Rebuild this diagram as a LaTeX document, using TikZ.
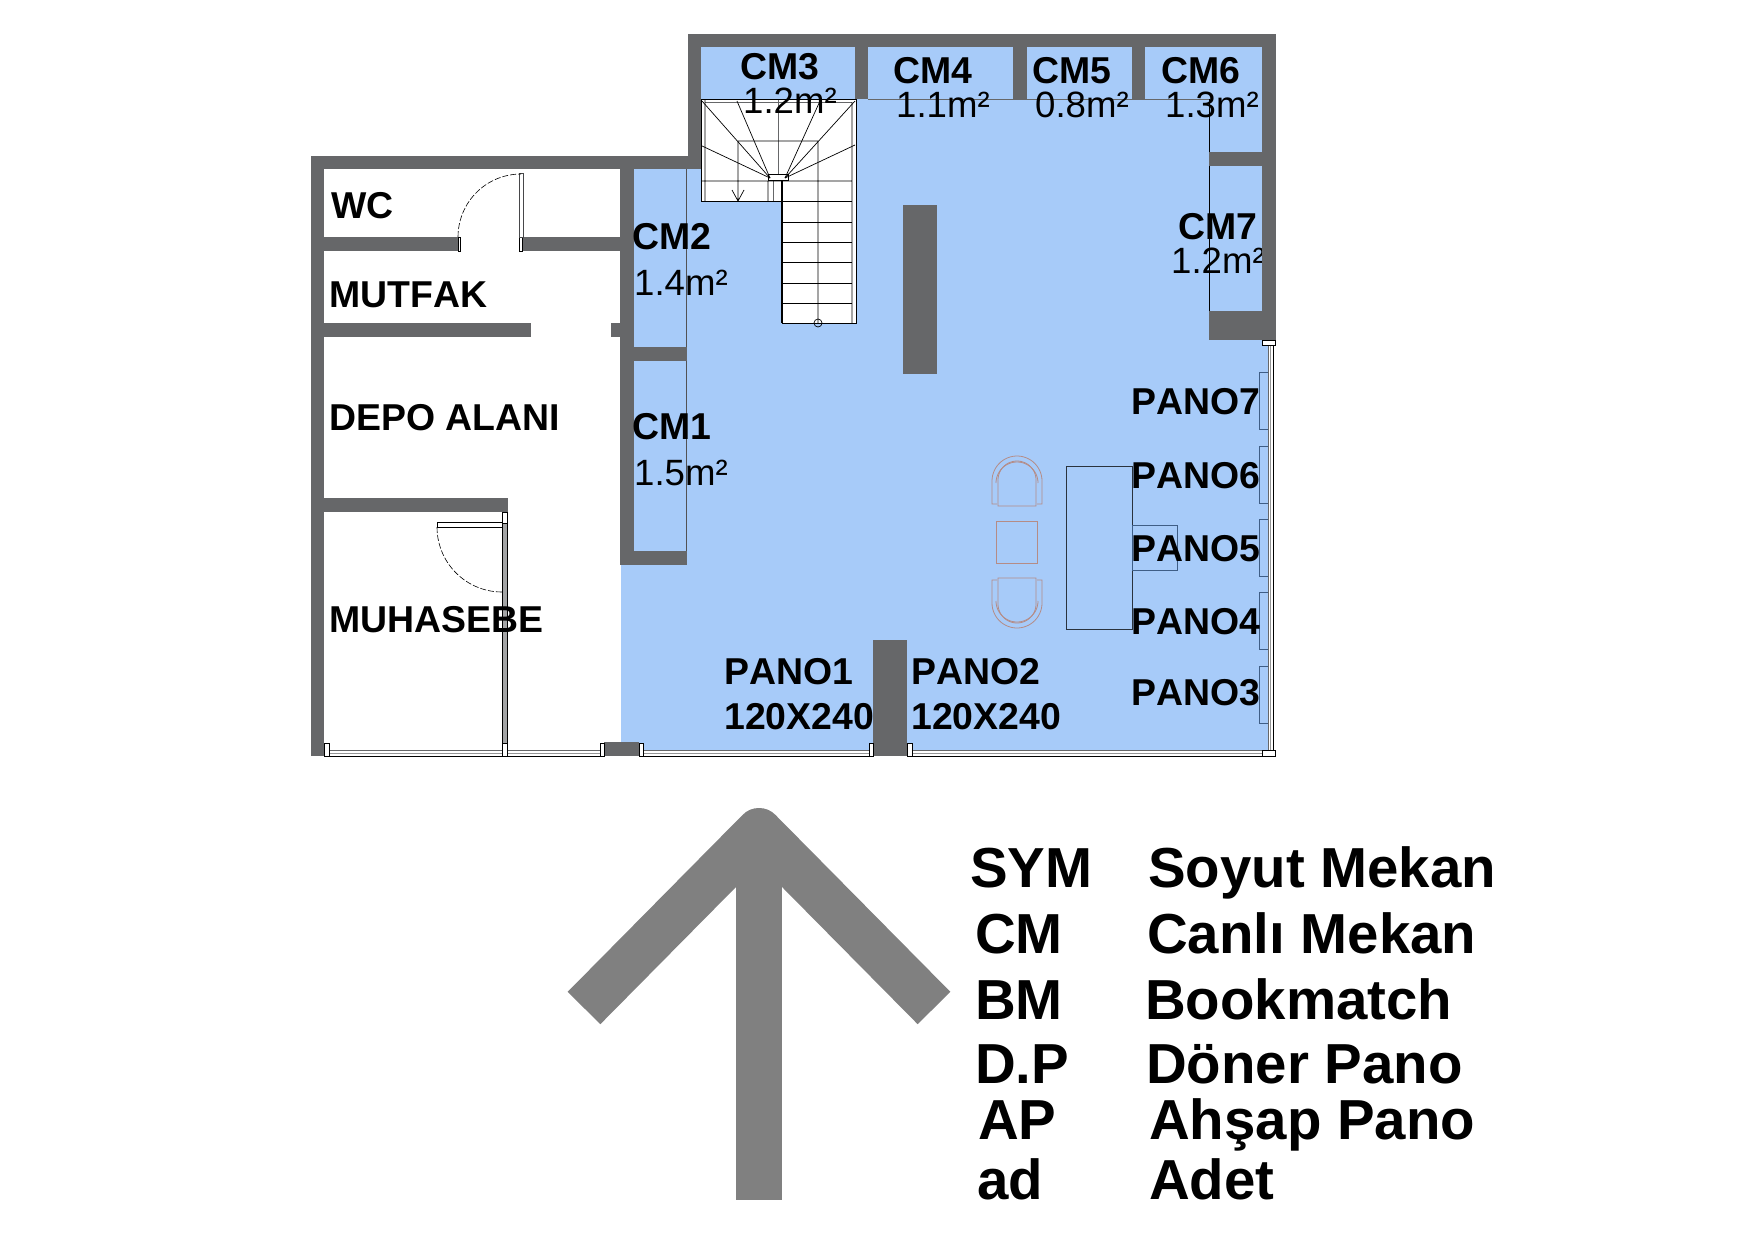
\documentclass[tikz,border=0pt]{standalone}
\usepackage{fontspec}
\setmainfont[Kerning=Off]{Liberation Sans}
\definecolor{wallgray}{HTML}{666769}
\definecolor{roomblue}{HTML}{A7CBF9}
\definecolor{arrowgray}{HTML}{808080}
\definecolor{chairline}{HTML}{B58C86}
\definecolor{panoline}{HTML}{3F5E86}
\tikzset{
    wallfill/.style={fill=wallgray,draw=none},
    capfill/.style={fill=white,draw=black,line width=.6pt},
    thinline/.style={draw=black,line width=.7pt},
    doorswing/.style={draw=black,line width=.6pt,dash pattern=on 6pt off 2pt},
    roomlabel/.style={anchor=base west,inner sep=0pt,font=\fontsize{37.4}{37.4}\selectfont\bfseries},
    arealabel/.style={anchor=base west,inner sep=0pt,font=\fontsize{36.6}{36.6}\selectfont},
    legendlabel/.style={anchor=base west,inner sep=0pt,font=\fontsize{56.4}{56.4}\selectfont\bfseries},
    arrowstroke/.style={draw=arrowgray,line width=46pt}
}
\begin{document}
\begin{tikzpicture}[x=1pt,y=-1pt]
    \useasboundingbox (0,0) rectangle (1755,1240);
    \fill[roomblue] (701,47)--(1262,47)--(1262,345)--(1268,345)--(1268,750)--(621,750)--(621,565)--(634,565)--(634,169)--(701,169)--cycle;
    \draw[line width=.8pt,draw=wallgray!80!black] (686,169)--(686,551);
    \draw[line width=.8pt,draw=wallgray] (868,99)--(1209,99);
    \draw[thinline] (1209,99)--(1209,340);
    %=========== stairs
    \fill[white] (701,99)--(856,99)--(856,323)--(782,323)--(782,201)--(701,201)--cycle;
    \draw[line width=1pt] (701,99)--(856,99)--(856,323)--(782,323)--(782,201)--(701,201)--cycle;
    \draw[line width=.5pt,draw=wallgray] (705,102)--(852,102) (778,100)--(778,174) (773,181)--(773,201);
    \draw[thinline] (705,99)--(705,201) (852,102)--(852,323) (701,181)--(852,181)
        (768,181)--(768,201) (738,141)--(818,141) (738,141)--(738,201) (818,141)--(818,323)
        (732,190)--(738,201)--(744,190);
    \draw[thinline] (768,174) rectangle (788,180);
    \foreach \sy in {201,222,242,262,283,303}\draw[thinline] (782,\sy)--(852,\sy);
    \foreach \sx/\sy in {702/101,737/101,700/145}\draw[thinline] (\sx,\sy)--(770,178);
    \foreach \sx/\sy in {855/101,820/101,855/145}\draw[thinline] (\sx,\sy)--(785,178);
    \draw[line width=1.6pt] (782,181)--(782,323);
    \draw[thinline] (818,323) circle (4pt);
    %=========== walls
    \foreach \xa/\ya/\xb/\yb in {311/156/324/756,311/156/701/169,688/34/701/169,688/34/1276/47,
        620/156/634/565,620/551/687/565,620/347/687/361,
        324/237/458/251,521/237/620/251,324/323/531/337,611/323/620/337,324/498/508/512,
        855/47/868/99,1013/47/1027/99,1132/47/1145/99,
        1209/152/1262/166,1209/311/1262/340,903/205/937/374,873/640/907/756,604/742/639/756}
        \fill[wallfill] (\xa,\ya) rectangle (\xb,\yb);
    %=========== windows and doors
    \foreach \xa/\xb in {329/502,507/600,643/869,912/1262}{
        \fill[white] (\xa,750) rectangle (\xb,756);
        \draw[line width=1pt,draw=wallgray] (\xa,750)--(\xb,750);
        \draw[line width=.6pt,draw=wallgray!70] (\xa,753)--(\xb,753);
        \draw[line width=1pt] (\xa,756)--(\xb,756);
    }
    \fill[white] (1268,345) rectangle (1274,750);
    \draw[line width=1pt,draw=wallgray] (1268,345)--(1268,750);
    \draw[line width=.6pt,draw=wallgray!70] (1270.5,345)--(1270.5,750);
    \draw[line width=1pt] (1273,345)--(1273,756);
    \foreach \xa/\ya/\xb/\yb in {324/743/329/756,502/743/507/756,600/743/604/756,639/743/643/756,
        869/743/873/756,907/743/912/756,502/512/507/523,1262/750/1275/756,1262/340/1275/345,
        458/237/460/251,519/237/522/251}
        \draw[capfill] (\xa,\ya) rectangle (\xb,\yb);
    \draw[fill=wallgray!60,line width=.6pt] (502,523) rectangle (507,743);
    \draw[capfill] (437,522) rectangle (502,527);
    \draw[doorswing] plot [samples=30,domain=0:90] ({502-65*cos(\x)},{527+65*sin(\x)});
    \draw[fill=white,line width=.6pt,draw=wallgray!70!black] (519,173) rectangle (523,237);
    \draw[doorswing] plot [samples=30,domain=0:90] ({521-63*cos(\x)},{237-63*sin(\x)});
    %=========== furniture
    \draw[line width=.9pt,draw=black!75!roomblue] (1066,466) rectangle (1132,629);
    \draw[line width=.9pt,draw=panoline] (1132,525) rectangle (1177,570);
    \foreach \ya/\yb in {372/429,446/503,519/576,592/649,666/723}
        \draw[line width=.9pt,draw=panoline] (1268,\ya)--(1259,\ya)--(1259,\yb)--(1268,\yb);
    \draw[chairline,line width=.8pt] (996,521) rectangle (1037,563);
    \foreach \cy/\cs in {456/1,628/-1}{
        \begin{scope}[shift={(1017,\cy)},yscale=\cs,chairline,line width=.8pt]
            \draw (-20,48)--(-25,48)--plot [samples=30,domain=180:0] ({25*cos(\x)},{25-25*sin(\x)})--(25,48)--(20,48);
            \draw (-19,50)--(-19,24)--plot [samples=30,domain=180:0] ({19*cos(\x)},{24-19*sin(\x)})--(19,50)--cycle;
            \draw plot [samples=30,domain=180:0] ({21*cos(\x)},{27-21*sin(\x)});
        \end{scope}
    }
    %=========== labels
    \foreach \nm/\lx/\ly/\txt in {wc/331/218/WC,mutfak/329/307/MUTFAK,depo/329/430/DEPO ALANI,muhasebe/329/632/MUHASEBE,
        cma/632/439/CM1,cmb/632/249/CM2,cmc/740/79/CM3,cmd/893/83/CM4,cme/1032/83/CM5,cmf/1161/83/CM6,cmg/1178/239/CM7,
        panoa/724/684/PANO1,panob/911/684/PANO2,sizea/724/729/120X240,sizeb/911/729/120X240,
        panoc/1131/705/PANO3,panod/1131/634/PANO4,panoe/1131/561/PANO5,panof/1131/488/PANO6,panog/1131/414/PANO7}
        \node[roomlabel] (\nm) at (\lx,\ly) {\txt};
    \foreach \nm/\lx/\ly/\txt in {areaa/634/485/1.5,areab/634/295/1.4,areac/743/113/1.2,aread/896/117/1.1,
        areae/1035/117/0.8,areaf/1165/117/1.3,areag/1171/273/1.2}
        \node[arealabel] (\nm) at (\lx,\ly) {\txt m²};
    \fill[wallfill] (1262,34) rectangle (1276,340);
    %=========== legend
    \foreach \nm/\lx/\rx/\ly/\ka/\kb in {sym/970/1148/887/SYM/Soyut Mekan,cm/975/1147/953/CM/Canlı Mekan,
        bm/975/1145/1019/BM/Bookmatch,dp/975/1146/1083/D.P/Döner Pano,ap/978/1149/1139/AP/Ahşap Pano,ad/977/1149/1199/ad/Adet}{
        \node[legendlabel] (\nm key) at (\lx,\ly) {\ka};
        \node[legendlabel] (\nm val) at (\rx,\ly) {\kb};
    }
    %=========== north arrow
    \coordinate (tipl) at (584,1008);
    \coordinate (apex) at (759,831);
    \coordinate (tipr) at (934,1008);
    \coordinate (foot) at (759,1200);
    \draw[arrowstroke] (apex)--(foot);
    \draw[arrowstroke,line join=round] (tipl)--(apex)--(tipr);
\end{tikzpicture}
\end{document}
